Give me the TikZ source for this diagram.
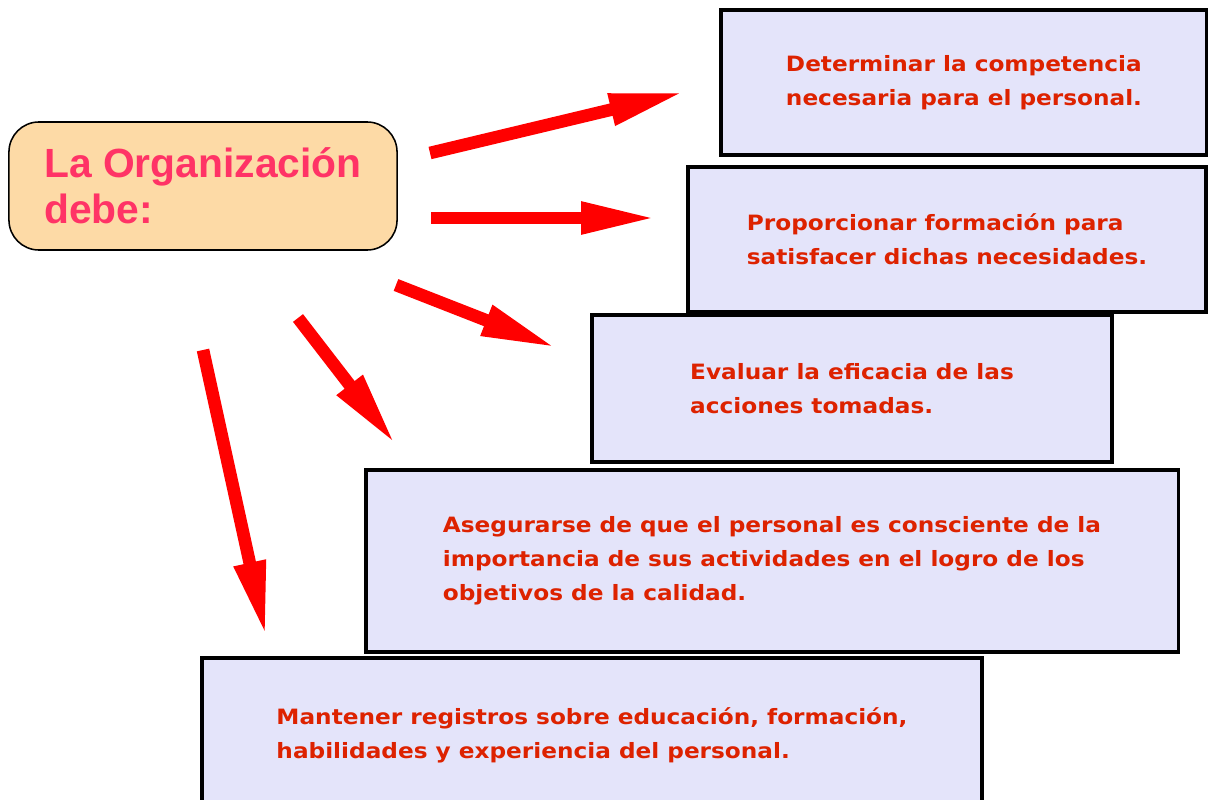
\documentclass[tikz,border=0pt]{standalone}
\usepackage{fontspec}
\setmainfont{DejaVu Sans}
\newfontfamily\taskfont[FakeStretch=1.1]{DejaVu Sans}
\newfontfamily\orgfont{Liberation Sans}
\usetikzlibrary{arrows.meta}

\definecolor{taskfill}{RGB}{228,228,250}
\definecolor{tasktext}{RGB}{221,34,0}
\definecolor{orgfill}{RGB}{253,218,166}
\definecolor{orgtext}{RGB}{255,51,102}

\begin{document}
\begin{tikzpicture}[x=0.025cm,y=-0.025cm]

\tikzset{task/.style = {shape=rectangle,draw,line width=2.3pt,fill=taskfill,align=left,text=tasktext,font=\taskfont\bfseries\fontsize{15}{24.2}\selectfont}}
\tikzset{org/.style = {shape=rectangle,draw,rounded corners=0.75cm,line width=1.1pt,fill=orgfill,align=left,text=orgtext,font=\orgfont\bfseries\fontsize{29}{33}\selectfont}}
\tikzset{edge/.style = {-{Triangle[length=54pt,width=21pt]},line width=9pt,red}}

\useasboundingbox (0,0) rectangle (1208,800);
\clip (0,0) rectangle (1208,800);

\node[org,minimum width=9.7cm,minimum height=3.2cm] (org) at (203,186) {La Organización\\debe:};

\node[task,minimum width=12.15cm,minimum height=3.625cm] (t1) at (964,82.5) {Determinar la competencia\\necesaria para el personal.};
\node[task,minimum width=12.95cm,minimum height=3.625cm] (t2) at (947,239.5) {Proporcionar formación para\\satisfacer dichas necesidades.};
\node[task,minimum width=13cm,minimum height=3.675cm] (t3) at (852,388.5) {Evaluar la eficacia de las\\acciones tomadas.};
\node[task,minimum width=20.3cm,minimum height=4.55cm] (t4) at (772,561) {Asegurarse de que el personal es consciente de la\\importancia de sus actividades en el logro de los\\objetivos de la calidad.};
\node[task,minimum width=19.5cm,minimum height=3.85cm] (t5) at (592,735) {Mantener registros sobre educación, formación,\\habilidades y experiencia del personal.};

% arrow ends
\coordinate (s1) at (430,153);
\coordinate (e1) at (685,92);
\coordinate (s2) at (431,218);
\coordinate (e2) at (657,218);
\coordinate (s3) at (396,285);
\coordinate (e3) at (557,348);
\coordinate (s4) at (298,318);
\coordinate (e4) at (396,445);
\coordinate (s5) at (203,350);
\coordinate (e5) at (266,637);

\draw[edge] (s1) -- (e1);
\draw[edge] (s2) -- (e2);
\draw[edge] (s3) -- (e3);
\draw[edge] (s4) -- (e4);
\draw[edge] (s5) -- (e5);

\end{tikzpicture}
\end{document}
